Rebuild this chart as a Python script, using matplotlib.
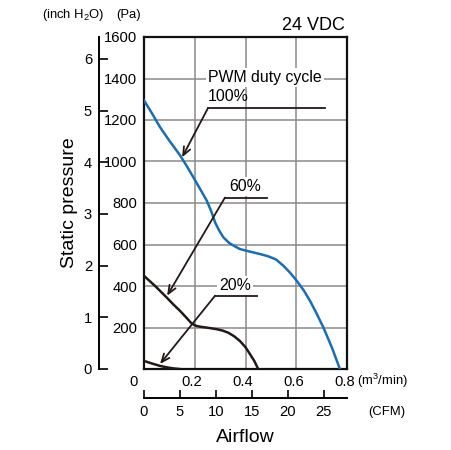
import matplotlib
matplotlib.use('Agg')
from matplotlib import pyplot as plt
from matplotlib import font_manager
from matplotlib.transforms import ScaledTranslation

names = {f.name for f in font_manager.fontManager.ttflist}
NARROW = 'Liberation Sans Narrow' in names
COND = 'Liberation Sans Narrow' if NARROW else 'Liberation Sans'
k = 1.0 if NARROW else 0.85   # shrink sizes when the narrow face is missing

plt.rcParams['font.family'] = [COND, 'DejaVu Sans']
plt.rcParams['mathtext.fontset'] = 'custom'
plt.rcParams['mathtext.rm'] = COND

# airflow [m3/min] vs static pressure [Pa]
flow_100 = [0, 0.03, 0.063, 0.1, 0.142, 0.17, 0.194, 0.22, 0.247, 0.265, 0.28,
            0.295, 0.3125, 0.335, 0.36, 0.378, 0.42, 0.457, 0.49, 0.52, 0.549,
            0.575, 0.602, 0.63, 0.654, 0.68, 0.707, 0.74, 0.772]
pres_100 = [1295, 1235, 1166, 1100, 1030, 975, 925, 870, 812, 760, 707,
            670, 635, 608, 590, 578, 565, 554, 543, 528, 498,
            465, 425, 378, 329, 268, 200, 105, 0]

flow_60 = [0, 0.043, 0.089, 0.115, 0.142, 0.165, 0.188, 0.205, 0.221, 0.255,
           0.286, 0.31, 0.332, 0.355, 0.378, 0.4, 0.418, 0.435, 0.45]
pres_60 = [449, 401, 345, 312, 280, 250, 219, 208, 204, 198,
           192, 185, 175, 158, 135, 105, 71, 38, 0]

flow_20 = [0, 0.03, 0.063, 0.09, 0.115, 0.139]
pres_20 = [39, 27, 15, 8, 3, 0]

pa_ticks = [0, 200, 400, 600, 800, 1000, 1200, 1400, 1600]
pa_labels = ['', '200', '400', '600', '800', '1000', '1200', '1400', '1600']
m3_ticks = [0, 0.2, 0.4, 0.6, 0.8]
m3_labels = ['0', '0.2', '0.4', '0.6', '0.8']
inch_ticks = [0, 1, 2, 3, 4, 5, 6]
cfm_ticks = [0, 5, 10, 15, 20, 25]

PA_PER_INCH = 249.09
CFM_PER_M3 = 35.3147
INK = '#231815'
REG = ['Liberation Sans', 'DejaVu Sans']

W, H = 451, 450
fig = plt.figure(figsize=(W / 100, H / 100), dpi=100)

x0, x1, y0, y1 = 144, 347, 37, 369
ax = fig.add_axes([x0 / W, 1 - y1 / H, (x1 - x0) / W, (y1 - y0) / H])
ax.set_xlim(0, 0.8)
ax.set_ylim(0, 1600)
ax.set_xticks(m3_ticks)
ax.set_xticklabels(m3_labels)
ax.set_yticks(pa_ticks)
ax.set_yticklabels(pa_labels)
ax.tick_params(length=0, labelsize=12.5 * k, pad=5)
ax.tick_params(axis='x', pad=4)
# labels sit a little left of their grid lines, the 0 more so
for i, lab in enumerate(ax.get_xticklabels()):
    dx = -10 if i == 0 else -2.5
    lab.set_transform(lab.get_transform() + ScaledTranslation(dx / 100, 0, fig.dpi_scale_trans))
ax.grid(True, color='#8a8a8a', lw=1.1)
ax.set_axisbelow(True)
for s in ax.spines.values():
    s.set_linewidth(1.6)
    s.set_color('#111111')

ax.plot(flow_100, pres_100, color='#1a6db5', lw=1.8, zorder=3)
ax.plot(flow_60, pres_60, color=INK, lw=1.8, zorder=3)
ax.plot(flow_20, pres_20, color=INK, lw=1.8, zorder=3)

# callouts
arrow = dict(arrowstyle='->,head_length=0.6,head_width=0.25', color=INK,
             lw=1.3, shrinkA=0, shrinkB=0)
box = dict(facecolor='white', edgecolor='none', pad=1.5)
fs = 13.5 * k
ax.text(0.252, 1406, 'PWM duty cycle', ha='left', va='center', fontsize=fs, bbox=box, zorder=4)
ax.text(0.252, 1312, '100%', ha='left', va='center', fontsize=fs, zorder=4)
ax.plot([0.252, 0.713], [1257, 1257], color=INK, lw=1.3, zorder=4)
ax.annotate('', xy=(0.15, 1020), xytext=(0.252, 1257), arrowprops=arrow, zorder=4)

ax.text(0.4, 878, '60%', ha='center', va='center', fontsize=fs, bbox=box, zorder=4)
ax.plot([0.319, 0.485], [826, 826], color=INK, lw=1.3, zorder=4)
ax.annotate('', xy=(0.091, 353), xytext=(0.319, 826), arrowprops=arrow, zorder=4)

ax.text(0.36, 403, '20%', ha='center', va='center', fontsize=fs, bbox=box, zorder=4)
ax.plot([0.28, 0.445], [353, 353], color=INK, lw=1.3, zorder=4)
ax.annotate('', xy=(0.063, 24), xytext=(0.28, 353), arrowprops=arrow, zorder=4)

# inch H2O axis
ax_in = fig.add_axes([99 / W, 1 - y1 / H, 0.001, (y1 - y0) / H])
ax_in.set_ylim(0, 1600 / PA_PER_INCH)
ax_in.set_yticks(inch_ticks)
ax_in.tick_params(axis='y', direction='in', length=6.5, width=1.2, labelsize=12.5 * k, pad=5)
ax_in.set_xticks([])
for s in ['top', 'right', 'bottom']:
    ax_in.spines[s].set_visible(False)
ax_in.spines['left'].set_linewidth(1.4)
ax_in.patch.set_visible(False)

# CFM axis
ax_cfm = fig.add_axes([x0 / W, 1 - 398 / H, (x1 - x0) / W, 0.001])
ax_cfm.set_xlim(0, 0.8 * CFM_PER_M3)
ax_cfm.set_xticks(cfm_ticks)
ax_cfm.tick_params(axis='x', direction='in', length=6, width=1.2, labelsize=12.5 * k, pad=5)
ax_cfm.set_yticks([])
for s in ['top', 'right', 'left']:
    ax_cfm.spines[s].set_visible(False)
ax_cfm.spines['bottom'].set_linewidth(1.4)
ax_cfm.patch.set_visible(False)

fig.text(73 / W, 1 - 15 / H, '(inch H$_2$O)', ha='center', va='center', fontsize=11 * k)
fig.text(129 / W, 1 - 15 / H, '(Pa)', ha='center', va='center', fontsize=11 * k)
fig.text(357 / W, 1 - 381 / H, '(m$^3$/min)', ha='left', va='center', fontsize=11 * k)
fig.text(368 / W, 1 - 412 / H, '(CFM)', ha='left', va='center', fontsize=11 * k)
fig.text(345 / W, 1 - 25 / H, '24 VDC', ha='right', va='center', fontsize=13, family=REG)
fig.text(245 / W, 1 - 437 / H, 'Airflow', ha='center', va='center', fontsize=14, family=REG)
fig.text(70 / W, 1 - 203 / H, 'Static pressure', ha='center', va='center', fontsize=14,
         rotation=90, family=REG)

fig.savefig('out.png', dpi=100)
